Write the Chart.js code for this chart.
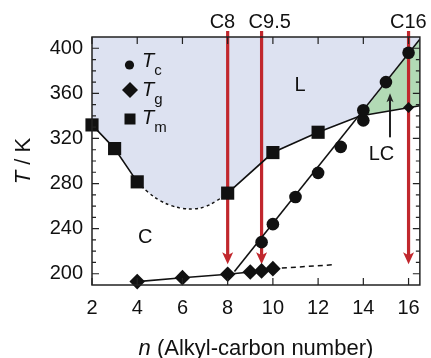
<!DOCTYPE html>
<html>
<head>
<meta charset="utf-8">
<script src="https://cdn.jsdelivr.net/npm/chart.js@4/dist/chart.umd.min.js"></script>
<style>
  html, body { margin: 0; padding: 0; background: #fff; }
</style>
</head>
<body>
<canvas id="chart" width="431" height="358"></canvas>
<script>
// ---- data (n = alkyl-carbon number, T in K) ----
const tcN = [9.5, 10, 11, 12, 13, 14, 14, 15, 16];
const tcT = [228, 244, 268, 289.5, 312.5, 336, 345, 370, 396];
const tcLineN = [8.3, 16.5];
const tcLineT = [202, 408];

const tgN = [4, 6, 8, 9, 9.5, 10, 16];
const tgT = [193, 196.5, 199.5, 201.5, 202.5, 204.5, 347.5];
const tgLineN = [4, 6, 8, 9, 9.5, 10];
const tgLineT = [193, 196.5, 199.5, 201.5, 202.5, 204.5];
const tgDashN = [10, 12.7];
const tgDashT = [204.5, 208];

const tmN = [2, 3, 4, 8, 10, 12];
const tmT = [332, 311, 281.5, 271.5, 307.5, 325.5];
const tmLeftN = [2, 3, 4];
const tmLeftT = [332, 311, 281.5];
const tmDashN = [4, 4.5, 5, 5.5, 6, 6.5, 7, 7.5, 8];
const tmDashT = [281.5, 272, 265, 260.5, 258, 257.5, 259.5, 264.5, 271.5];
const tmRightN = [8, 10, 12, 13.85, 16.5];
const tmRightT = [271.5, 307.5, 325.5, 340, 349];

// liquid-crystal band: Tc line above the crossing
const lcN = [13.85, 16.5];
const lcT = [340, 408];

const xTicks = [2, 4, 6, 8, 10, 12, 14, 16];
const yTicks = [200, 240, 280, 320, 360, 400];

const arrowN = [8, 9.5, 16];
const arrowLabels = ['C8', 'C9.5', 'C16'];
const arrowTipT = 208.5;

const FONT = '"Liberation Sans", Arial, Helvetica, sans-serif';
const RED = '#c1272d';
const BLUE = '#dde2f1';
const GREEN = '#b2dab5';

const pts = (xs, ys) => xs.map((x, i) => ({ x: x, y: ys[i] }));

// L region boundary: melting curve up to the crossing, then the Tc line
const lBoundary = pts(tmLeftN, tmLeftT)
  .concat(pts(tmDashN, tmDashT).slice(1))
  .concat(pts(tmRightN, tmRightT).slice(1, 4))
  .concat(pts(lcN, lcT).slice(1));

function line(data, opts) {
  return Object.assign({
    data: data, showLine: true, pointRadius: 0, borderColor: '#111',
    borderWidth: 1.6, fill: false, tension: 0
  }, opts || {});
}

function drawArrow(ctx, x, y0, y1, w, headW, headH, color) {
  const d = Math.sign(y1 - y0);
  ctx.save();
  ctx.strokeStyle = color;
  ctx.fillStyle = color;
  ctx.lineWidth = w;
  ctx.beginPath();
  ctx.moveTo(x, y0);
  ctx.lineTo(x, y1 - d * headH * 0.7);
  ctx.stroke();
  ctx.beginPath();
  ctx.moveTo(x, y1);
  ctx.lineTo(x - headW / 2, y1 - d * headH);
  ctx.lineTo(x, y1 - d * headH * 0.75);
  ctx.lineTo(x + headW / 2, y1 - d * headH);
  ctx.closePath();
  ctx.fill();
  ctx.restore();
}

// draws runs of [text, font, dy] left to right
function drawRuns(ctx, x, y, runs, align) {
  let total = 0;
  runs.forEach(r => { ctx.font = r[1]; total += ctx.measureText(r[0]).width; });
  let cx = align === 'center' ? x - total / 2 : x;
  runs.forEach(r => {
    ctx.font = r[1];
    ctx.fillText(r[0], cx, y + (r[2] || 0));
    cx += ctx.measureText(r[0]).width;
  });
}

const decor = {
  id: 'decor',
  beforeDatasetsDraw(chart) {
    const ctx = chart.ctx;
    const xs = chart.scales.x, ys = chart.scales.y;
    const top = chart.chartArea.top;
    ctx.save();
    ctx.fillStyle = RED;
    ctx.font = '20px ' + FONT;
    ctx.textBaseline = 'alphabetic';
    const shift = [-18, -13, -18.5];
    arrowN.forEach((n, i) => {
      const px = xs.getPixelForValue(n);
      drawArrow(ctx, px, top - 6, ys.getPixelForValue(arrowTipT), 3.2, 11, 12, RED);
      ctx.fillStyle = '#111';
      ctx.fillText(arrowLabels[i], px + shift[i], 28);
    });
    // region labels
    ctx.fillStyle = '#111';
    ctx.textAlign = 'center';
    ctx.textBaseline = 'middle';
    ctx.font = '20px ' + FONT;
    ctx.fillText('L', xs.getPixelForValue(11.2), ys.getPixelForValue(367));
    ctx.fillText('C', xs.getPixelForValue(4.35), ys.getPixelForValue(232));
    ctx.fillText('LC', xs.getPixelForValue(14.8), ys.getPixelForValue(306));
    const ax = xs.getPixelForValue(15.18);
    drawArrow(ctx, ax, ys.getPixelForValue(321), ys.getPixelForValue(360), 2, 7, 9, '#222');
    ctx.restore();
  },
  afterDraw(chart) {
    const ctx = chart.ctx;
    const a = chart.chartArea;
    const xs = chart.scales.x, ys = chart.scales.y;
    ctx.save();
    ctx.strokeStyle = '#222';
    ctx.lineWidth = 1.5;
    ctx.strokeRect(a.left, a.top, a.right - a.left, a.bottom - a.top);
    ctx.lineWidth = 1.2;
    ctx.beginPath();
    xTicks.forEach(v => {
      const p = xs.getPixelForValue(v);
      ctx.moveTo(p, a.bottom); ctx.lineTo(p, a.bottom - 7);
      ctx.moveTo(p, a.top); ctx.lineTo(p, a.top + 7);
    });
    for (let v = 200; v <= 400; v += 10) {
      const p = ys.getPixelForValue(v);
      const len = v % 40 === 0 ? 7 : 4;
      ctx.moveTo(a.left, p); ctx.lineTo(a.left + len, p);
      ctx.moveTo(a.right, p); ctx.lineTo(a.right - len, p);
    }
    ctx.stroke();

    // legend
    ctx.fillStyle = '#111';
    ctx.beginPath();
    ctx.arc(129.5, 65, 4.6, 0, Math.PI * 2);
    ctx.fill();
    ctx.beginPath();
    ctx.moveTo(130, 82); ctx.lineTo(138, 90); ctx.lineTo(130, 98); ctx.lineTo(122, 90);
    ctx.closePath();
    ctx.fill();
    ctx.fillRect(124.5, 113.5, 11, 11);
    ctx.textBaseline = 'alphabetic';
    ctx.textAlign = 'left';
    const it = 'italic 20px ' + FONT, sub = '15px ' + FONT;
    drawRuns(ctx, 142, 67, [['T', it], ['c', sub, 8]]);
    drawRuns(ctx, 142, 96, [['T', it], ['g', sub, 8]]);
    drawRuns(ctx, 142, 124, [['T', it], ['m', sub, 8]]);

    // axis titles
    drawRuns(ctx, (a.left + a.right) / 2, 355, [['n', 'italic 22px ' + FONT], [' (Alkyl-carbon number)', '22px ' + FONT]], 'center');
    ctx.translate(30, (a.top + a.bottom) / 2);
    ctx.rotate(-Math.PI / 2);
    drawRuns(ctx, 0, 0, [['T', 'italic 22px ' + FONT], [' / K', '22px ' + FONT]], 'center');
    ctx.restore();
  }
};

const markerStyle = { showLine: false, backgroundColor: '#111', borderColor: '#111', borderWidth: 0, clip: false };

new Chart(document.getElementById('chart'), {
  type: 'scatter',
  data: {
    datasets: [
      Object.assign({ label: 'Tc', data: pts(tcN, tcT), pointStyle: 'circle', pointRadius: 6.3 }, markerStyle),
      Object.assign({ label: 'Tm', data: pts(tmN, tmT), pointStyle: 'rect', pointRadius: 9.3 }, markerStyle),
      Object.assign({ label: 'Tg', data: pts(tgN, tgT), pointStyle: 'rectRot',
        pointRadius: ctx => ctx.dataIndex === tgN.length - 1 ? 5.5 : 7.8 }, markerStyle),
      line(pts(tcLineN, tcLineT)),
      line(pts(tmLeftN, tmLeftT)),
      line(pts(tmDashN, tmDashT), { borderDash: [3, 3], tension: 0.4, borderWidth: 1.5 }),
      line(pts(tmRightN, tmRightT)),
      line(pts(tgLineN, tgLineT)),
      line(pts(tgDashN, tgDashT), { borderDash: [5, 4], borderWidth: 1.5 }),
      line(lBoundary, { borderWidth: 0, borderColor: 'rgba(0,0,0,0)', fill: 'end', backgroundColor: BLUE }),
      line(pts(lcN, lcT), { borderWidth: 0, borderColor: 'rgba(0,0,0,0)', fill: 6, backgroundColor: GREEN })
    ]
  },
  options: {
    responsive: false,
    animation: false,
    devicePixelRatio: 1,
    layout: { padding: { top: 37, right: 8, left: 0, bottom: 0 } },
    plugins: {
      legend: { display: false },
      tooltip: { enabled: false },
      filler: { propagate: false, drawTime: 'beforeDraw' }
    },
    scales: {
      x: {
        type: 'linear', min: 2, max: 16.5,
        afterBuildTicks: s => { s.ticks = xTicks.map(v => ({ value: v })); },
        afterFit: s => { s.height = 73; },
        grid: { display: false, drawTicks: false },
        border: { display: false },
        ticks: { padding: 11, color: '#111', font: { family: FONT, size: 20 }, maxRotation: 0 }
      },
      y: {
        type: 'linear', min: 190, max: 410,
        afterBuildTicks: s => { s.ticks = yTicks.map(v => ({ value: v })); },
        afterFit: s => { s.width = 92; },
        grid: { display: false, drawTicks: false },
        border: { display: false },
        ticks: { padding: 9, color: '#111', font: { family: FONT, size: 20 } }
      }
    }
  },
  plugins: [decor]
});
</script>
</body>
</html>
